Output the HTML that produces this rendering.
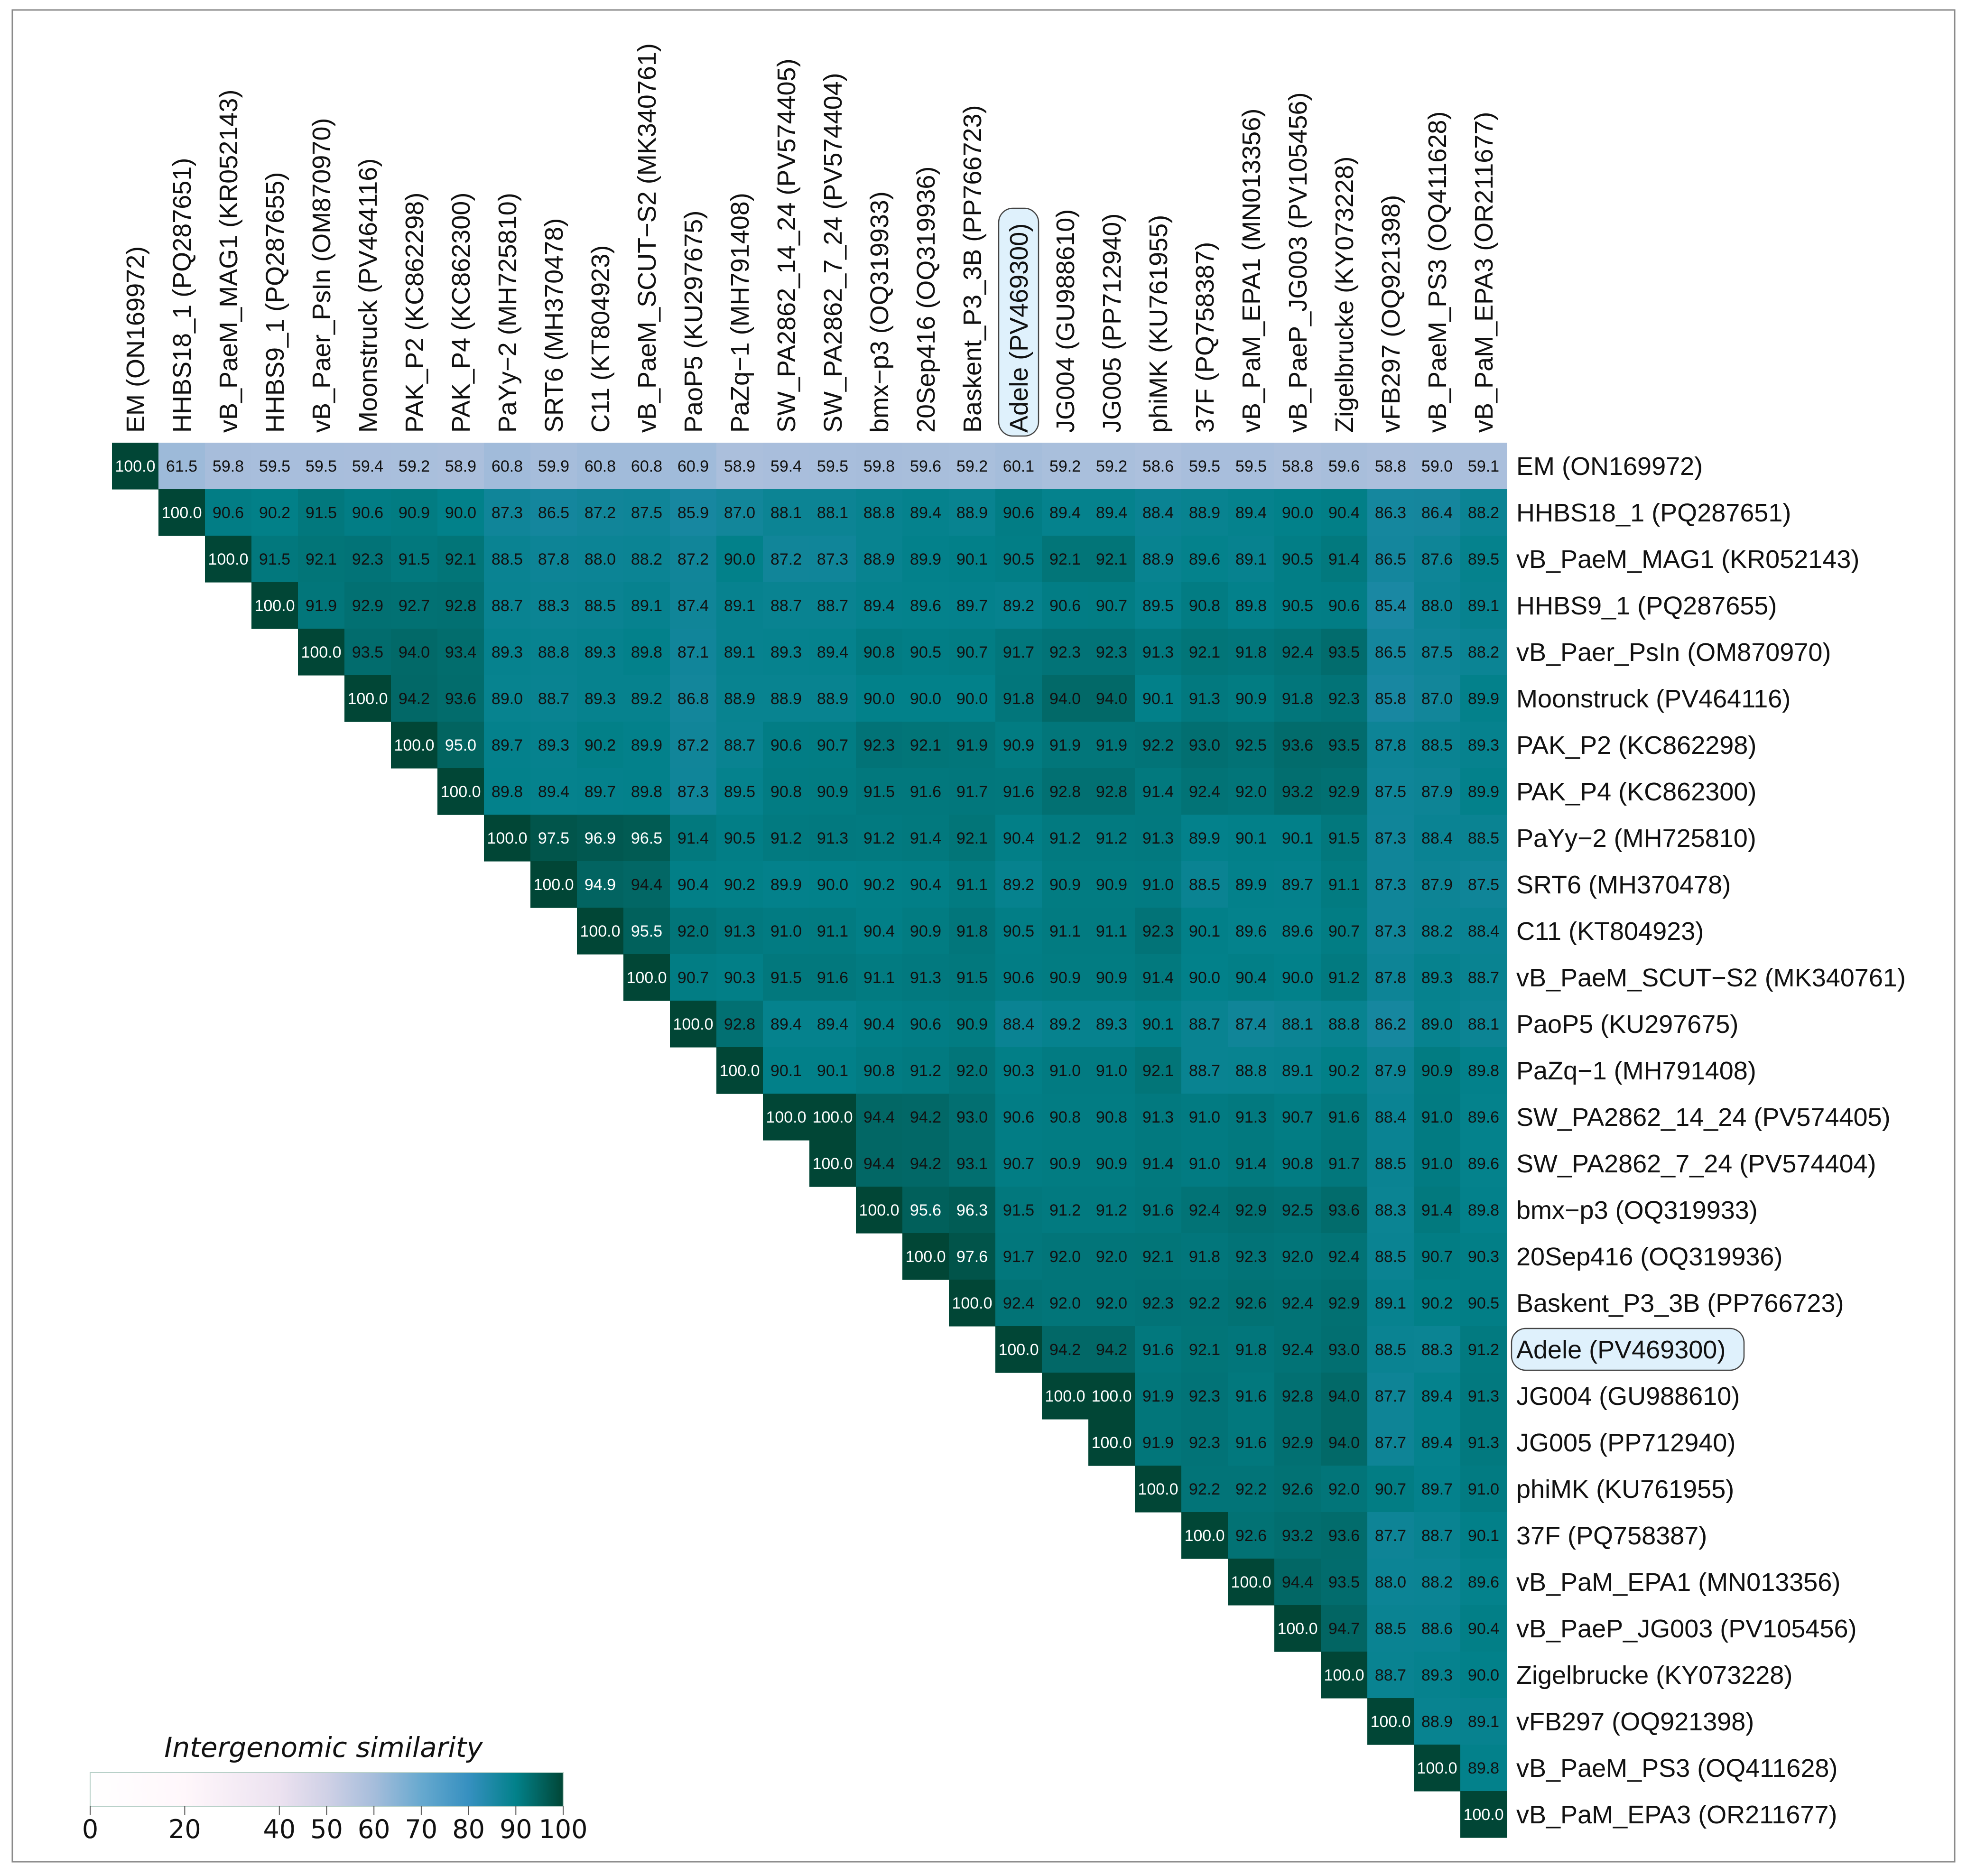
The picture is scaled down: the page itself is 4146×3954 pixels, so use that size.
<!DOCTYPE html>
<html><head><meta charset="utf-8"><style>
html,body{margin:0;padding:0;background:#fff}
svg{display:block}
</style></head><body>
<svg id="chart" xmlns="http://www.w3.org/2000/svg" width="4146" height="3954" viewBox="0 0 4146 3954">
<rect x="26" y="21" width="4094" height="3903" fill="#fff" stroke="#8a8a8a" stroke-width="3"/>
<g id="cells"></g><g id="collabels"></g><g id="rowlabels"></g><g id="legend"></g>
</svg>
<script>
const labels = ["EM (ON169972)","HHBS18_1 (PQ287651)","vB_PaeM_MAG1 (KR052143)","HHBS9_1 (PQ287655)","vB_Paer_PsIn (OM870970)","Moonstruck (PV464116)","PAK_P2 (KC862298)","PAK_P4 (KC862300)","PaYy\u22122 (MH725810)","SRT6 (MH370478)","C11 (KT804923)","vB_PaeM_SCUT\u2212S2 (MK340761)","PaoP5 (KU297675)","PaZq\u22121 (MH791408)","SW_PA2862_14_24 (PV574405)","SW_PA2862_7_24 (PV574404)","bmx\u2212p3 (OQ319933)","20Sep416 (OQ319936)","Baskent_P3_3B (PP766723)","Adele (PV469300)","JG004 (GU988610)","JG005 (PP712940)","phiMK (KU761955)","37F (PQ758387)","vB_PaM_EPA1 (MN013356)","vB_PaeP_JG003 (PV105456)","Zigelbrucke (KY073228)","vFB297 (OQ921398)","vB_PaeM_PS3 (OQ411628)","vB_PaM_EPA3 (OR211677)"];
const highlighted = "Adele (PV469300)";
// upper triangle rows (values right of diagonal)
const r0=[61.5,59.8,59.5,59.5,59.4,59.2,58.9,60.8,59.9,60.8,60.8,60.9,58.9,59.4,59.5,59.8,59.6,59.2,60.1,59.2,59.2,58.6,59.5,59.5,58.8,59.6,58.8,59.0,59.1];
const r1=[90.6,90.2,91.5,90.6,90.9,90.0,87.3,86.5,87.2,87.5,85.9,87.0,88.1,88.1,88.8,89.4,88.9,90.6,89.4,89.4,88.4,88.9,89.4,90.0,90.4,86.3,86.4,88.2];
const r2=[91.5,92.1,92.3,91.5,92.1,88.5,87.8,88.0,88.2,87.2,90.0,87.2,87.3,88.9,89.9,90.1,90.5,92.1,92.1,88.9,89.6,89.1,90.5,91.4,86.5,87.6,89.5];
const r3=[91.9,92.9,92.7,92.8,88.7,88.3,88.5,89.1,87.4,89.1,88.7,88.7,89.4,89.6,89.7,89.2,90.6,90.7,89.5,90.8,89.8,90.5,90.6,85.4,88.0,89.1];
const r4=[93.5,94.0,93.4,89.3,88.8,89.3,89.8,87.1,89.1,89.3,89.4,90.8,90.5,90.7,91.7,92.3,92.3,91.3,92.1,91.8,92.4,93.5,86.5,87.5,88.2];
const r5=[94.2,93.6,89.0,88.7,89.3,89.2,86.8,88.9,88.9,88.9,90.0,90.0,90.0,91.8,94.0,94.0,90.1,91.3,90.9,91.8,92.3,85.8,87.0,89.9];
const r6=[95.0,89.7,89.3,90.2,89.9,87.2,88.7,90.6,90.7,92.3,92.1,91.9,90.9,91.9,91.9,92.2,93.0,92.5,93.6,93.5,87.8,88.5,89.3];
const r7=[89.8,89.4,89.7,89.8,87.3,89.5,90.8,90.9,91.5,91.6,91.7,91.6,92.8,92.8,91.4,92.4,92.0,93.2,92.9,87.5,87.9,89.9];
const r8=[97.5,96.9,96.5,91.4,90.5,91.2,91.3,91.2,91.4,92.1,90.4,91.2,91.2,91.3,89.9,90.1,90.1,91.5,87.3,88.4,88.5];
const r9=[94.9,94.4,90.4,90.2,89.9,90.0,90.2,90.4,91.1,89.2,90.9,90.9,91.0,88.5,89.9,89.7,91.1,87.3,87.9,87.5];
const r10=[95.5,92.0,91.3,91.0,91.1,90.4,90.9,91.8,90.5,91.1,91.1,92.3,90.1,89.6,89.6,90.7,87.3,88.2,88.4];
const r11=[90.7,90.3,91.5,91.6,91.1,91.3,91.5,90.6,90.9,90.9,91.4,90.0,90.4,90.0,91.2,87.8,89.3,88.7];
const r12=[92.8,89.4,89.4,90.4,90.6,90.9,88.4,89.2,89.3,90.1,88.7,87.4,88.1,88.8,86.2,89.0,88.1];
const r13=[90.1,90.1,90.8,91.2,92.0,90.3,91.0,91.0,92.1,88.7,88.8,89.1,90.2,87.9,90.9,89.8];
const r14=[100.0,94.4,94.2,93.0,90.6,90.8,90.8,91.3,91.0,91.3,90.7,91.6,88.4,91.0,89.6];
const r15=[94.4,94.2,93.1,90.7,90.9,90.9,91.4,91.0,91.4,90.8,91.7,88.5,91.0,89.6];
const r16=[95.6,96.3,91.5,91.2,91.2,91.6,92.4,92.9,92.5,93.6,88.3,91.4,89.8];
const r17=[97.6,91.7,92.0,92.0,92.1,91.8,92.3,92.0,92.4,88.5,90.7,90.3];
const r18=[92.4,92.0,92.0,92.3,92.2,92.6,92.4,92.9,89.1,90.2,90.5];
const r19=[94.2,94.2,91.6,92.1,91.8,92.4,93.0,88.5,88.3,91.2];
const r20=[100.0,91.9,92.3,91.6,92.8,94.0,87.7,89.4,91.3];
const r21=[91.9,92.3,91.6,92.9,94.0,87.7,89.4,91.3];
const r22=[92.2,92.2,92.6,92.0,90.7,89.7,91.0];
const r23=[92.6,93.2,93.6,87.7,88.7,90.1];
const r24=[94.4,93.5,88.0,88.2,89.6];
const r25=[94.7,88.5,88.6,90.4];
const r26=[88.7,89.3,90.0];
const r27=[88.9,89.1];
const r28=[89.8];
const r29=[];
const upperRows=[r0,r1,r2,r3,r4,r5,r6,r7,r8,r9,r10,r11,r12,r13,r14,r15,r16,r17,r18,r19,r20,r21,r22,r23,r24,r25,r26,r27,r28,r29];
const diagValue = 100.0;
const colorbarTicks=[0,20,40,50,60,70,80,90,100];
const colorStops=[[0,"#ffffff"],[20,"#fff7fb"],[40,"#ece2f0"],[50,"#d0d1e6"],[60,"#a6bddb"],[70,"#67a9cf"],[80,"#3690c0"],[90,"#02818a"],[100,"#014636"]];

const NS="http://www.w3.org/2000/svg";
const X0=236, Y0=933, CELL=98;
const LABEL_FS=54;
const xPos=j=>X0+j*CELL, yPos=i=>Y0+i*CELL;
const CB_X0=190, CB_X1=1187, CB_Y=3736, CB_H=71;
const cbScale=v=>CB_X0+(v/100)*(CB_X1-CB_X0);
function hex(c){return [1,3,5].map(k=>parseInt(c.substr(k,2),16));}
function color(v){
  for(let k=1;k<colorStops.length;k++){
    if(v<=colorStops[k][0]){
      const [a,ca]=colorStops[k-1],[b,cb]=colorStops[k];
      const t=(v-a)/(b-a),A=hex(ca),B=hex(cb);
      return "rgb("+A.map((x,i)=>Math.round(x+(B[i]-x)*t)).join(",")+")";
    }
  }
  return colorStops[colorStops.length-1][1];
}
function mk(tag,attrs,parent){const e=document.createElementNS(NS,tag);for(const k in attrs)e.setAttribute(k,attrs[k]);parent.appendChild(e);return e;}
const gC=document.getElementById("cells"), gCol=document.getElementById("collabels"), gRow=document.getElementById("rowlabels"), gL=document.getElementById("legend");

upperRows.forEach((row,i)=>{
  const vals=[diagValue].concat(row);
  vals.forEach((v,k)=>{
    const j=i+k;
    const r=mk("rect",{x:xPos(j),y:yPos(i),width:CELL+0.6,height:CELL+0.6,fill:color(v)},gC);
    
    
    const t=mk("text",{x:xPos(j)+CELL/2,y:yPos(i)+CELL/2+12,"text-anchor":"middle","font-family":"Liberation Sans, sans-serif","font-size":34,fill:v>=94.9?"#ffffff":"#111"},gC);
    t.textContent=v.toFixed(1);
    
    
  });
});

labels.forEach((lab,j)=>{
  const cx=xPos(j)+CELL/2;
  if(lab===highlighted){
    const b=mk("rect",{x:cx-42,y:439,width:84,height:480,rx:30,fill:"#dff1fc",stroke:"#444","stroke-width":2.5},gCol);
    
    
  }
  const t=mk("text",{x:0,y:0,transform:"translate("+(cx+19)+",912) rotate(-90)","font-family":"Liberation Sans, sans-serif","font-size":LABEL_FS,fill:"#111"},gCol);
  t.textContent=lab;
  
  
});
labels.forEach((lab,i)=>{
  const cy=yPos(i)+CELL/2;
  if(lab===highlighted){
    const b=mk("rect",{x:3186,y:cy-44,width:490,height:88,rx:30,fill:"#dff1fc",stroke:"#444","stroke-width":2.5},gRow);
    
    
  }
  const t=mk("text",{x:3196,y:cy+19,"font-family":"Liberation Sans, sans-serif","font-size":LABEL_FS,fill:"#111"},gRow);
  t.textContent=lab;
  
  
});

// colorbar
const defs=mk("defs",{},gL);
const grad=mk("linearGradient",{id:"cbgrad",x1:"0",x2:"1",y1:"0",y2:"0"},defs);
colorStops.forEach(([v,c])=>mk("stop",{offset:(v/100),"stop-color":c},grad));
const ttl=mk("text",{x:682,y:3703,"text-anchor":"middle","font-family":"DejaVu Sans, sans-serif","font-style":"italic","font-size":58,fill:"#111"},gL);
ttl.textContent="Intergenomic similarity";


const bar=mk("rect",{x:CB_X0,y:CB_Y,width:CB_X1-CB_X0,height:CB_H,fill:"url(#cbgrad)",stroke:"#b8d0c8","stroke-width":2},gL);


colorbarTicks.forEach(v=>{
  const x=cbScale(v);
  const tk=mk("line",{x1:x,x2:x,y1:CB_Y+CB_H,y2:CB_Y+CB_H+18,stroke:"#555","stroke-width":2},gL);
  
  
  const t=mk("text",{x:x,y:3874,"text-anchor":"middle","font-family":"DejaVu Sans, sans-serif","font-size":54,fill:"#111"},gL);
  t.textContent=String(v);
  
  
});
</script>
</body></html>
